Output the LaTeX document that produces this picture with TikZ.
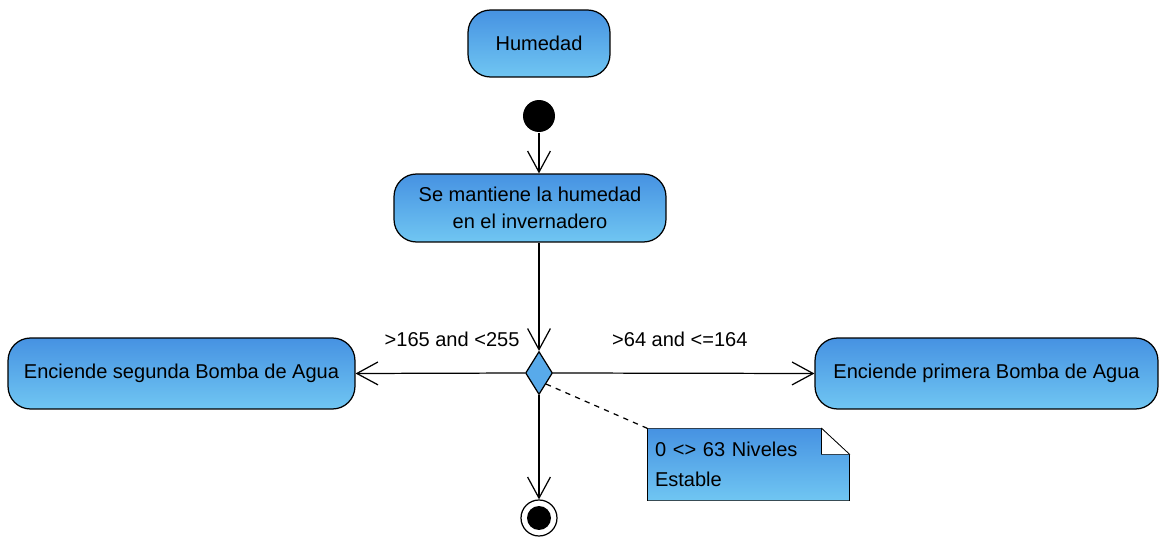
\documentclass[tikz,border=0pt]{standalone}
\usepackage{fontspec}
\setmainfont{Liberation Sans}
\usetikzlibrary{shapes.geometric,arrows.meta,calc,backgrounds}

\definecolor{umltop}{RGB}{70,146,226}
\definecolor{umlbot}{RGB}{112,198,242}
\definecolor{umldec}{RGB}{88,170,234}

\tikzset{
  accion/.style={rectangle, draw, rounded corners=0.45cm, top color=umltop, bottom color=umlbot, font=\fontsize{11.4}{15.4}\selectfont, align=center},
  decision/.style={diamond, draw, fill=umldec, inner sep=0pt, minimum width=0.54cm, minimum height=0.86cm},
  inicial/.style={circle, fill=black, minimum size=0.64cm, inner sep=0pt},
  final/.style={circle, draw, fill=white, minimum size=0.72cm, inner sep=0pt},
  guarda/.style={font=\fontsize{11.4}{14}\selectfont}
}

\begin{document}
\begin{tikzpicture}[x=0.02cm, y=-0.02cm, line width=0.7pt, >={Straight Barb[length=12pt,width=13pt]}]
  \useasboundingbox (0,0) rectangle (1161,537);
  % Nodes
  \node (hum) [accion, minimum width=2.84cm, minimum height=1.34cm] at (539, 43.5) {Humedad};
  \node (ini) [inicial] at (539, 116) {};
  \node (man) [accion, minimum width=5.44cm, minimum height=1.36cm] at (530, 208) {Se mantiene la humedad\\en el invernadero};
  \node (dec) [decision] at (539, 373) {};
  \node (seg) [accion, minimum width=6.94cm, minimum height=1.42cm] at (181.5, 373.5) {Enciende segunda Bomba de Agua};
  \node (pri) [accion, minimum width=6.86cm, minimum height=1.42cm] at (986.5, 373.5) {Enciende primera Bomba de Agua};
  \node (fin) [final] at (539, 518) {};
  \fill (fin.center) circle[radius=0.24cm];
  % Note
  \node (nota) [text width=3.74cm, inner sep=0.14cm, minimum height=1.42cm, align=left, font=\fontsize{11.4}{17}\selectfont] at (748.5, 464.5) {0 <> 63 Niveles\\Estable};
  \begin{scope}[on background layer]
    \draw[top color=umltop, bottom color=umlbot] (nota.north west) -- ($(nota.north east)+(-28,0)$) -- ($(nota.north east)+(0,26)$) -- (nota.south east) -- (nota.south west) -- cycle;
    \draw[fill=white] ($(nota.north east)+(-28,0)$) -- ++(0,26) -- ++(28,0) -- cycle;
  \end{scope}
  % Arrows
  \draw[->] (ini) -- (ini |- man.north);
  \draw[->] (dec |- man.south) -- (dec.north);
  \draw[->] (dec.west) -- node[guarda, pos=0.43, above=0.4cm] {>165 and <255} (seg.east);
  \draw[->] (dec.east) -- node[guarda, pos=0.485, above=0.4cm] {>64 and <=164} (pri.west);
  \draw[->] (dec.south) -- (fin.north);
  \draw[dashed] (dec.south east) -- (nota.north west);
\end{tikzpicture}
\end{document}
